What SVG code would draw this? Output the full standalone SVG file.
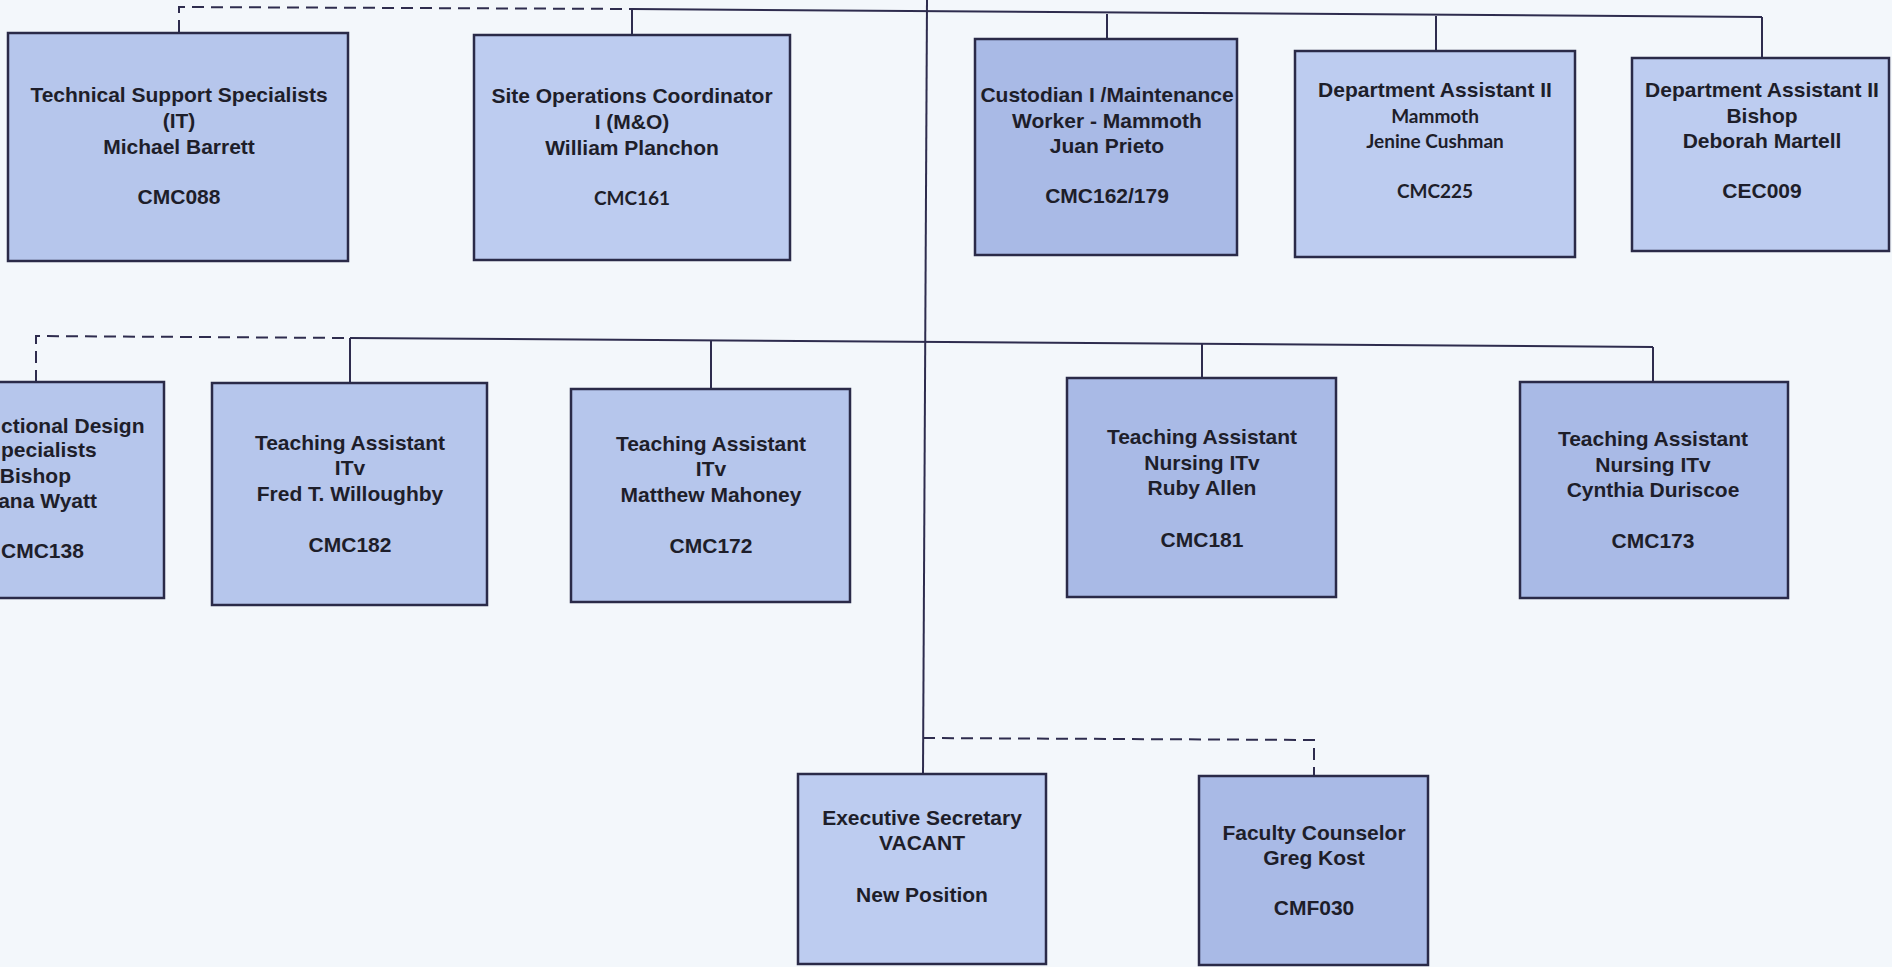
<svg xmlns="http://www.w3.org/2000/svg" width="1892" height="967" viewBox="0 0 1892 967">
  <style>
    .box { fill: #b6c6ec; stroke: #2a2a48; stroke-width: 2.5; }
    .box.dk { fill: #a9bae6; }
    .box.lt { fill: #bdccf0; }
    .t { font-family: "Liberation Sans", Arial, sans-serif; font-weight: bold; font-size: 21px; fill: #1e1e2a; text-anchor: middle; }
    .c { font-family: Lato, "Liberation Sans", sans-serif; font-weight: bold; font-size: 19px; fill: #1e1e2a; text-anchor: middle; }
    .e { text-anchor: end; }
    .s { text-anchor: start; }
    .ln { fill: none; stroke: #2e2c4e; stroke-width: 2; }
    .dash { stroke-dasharray: 12 7; }
  </style>
  <rect width="1892" height="967" fill="#f3f7fb"/>

  <g id="connectors">
    <!-- main vertical trunk -->
    <path class="ln" d="M927,0 L923,774"/>
    <!-- top row bus -->
    <path class="ln dash" d="M179,32 L179,7 L632,9"/>
    <path class="ln" d="M632,9 L1762,17"/>
    <path class="ln" d="M632,9 V35"/>
    <path class="ln" d="M1107,14 V38"/>
    <path class="ln" d="M1436,16 V51"/>
    <path class="ln" d="M1762,17 V58"/>
    <!-- second row bus -->
    <path class="ln dash" d="M36,382 L36,336 L350,338"/>
    <path class="ln" d="M350,338 L1653,347"/>
    <path class="ln" d="M350,338 V383"/>
    <path class="ln" d="M711,340 V389"/>
    <path class="ln" d="M1202,344 V378"/>
    <path class="ln" d="M1653,347 V382"/>
    <!-- dotted-line report to faculty counselor -->
    <path class="ln dash" d="M923,738 L1314,740 V776"/>
  </g>

  <g id="tech-support">
    <rect class="box" x="8" y="33" width="340" height="228"/>
    <text class="t" x="179" y="102">Technical Support Specialists</text>
    <text class="t" x="179" y="128">(IT)</text>
    <text class="t" x="179" y="154">Michael Barrett</text>
    <text class="t" x="179" y="204">CMC088</text>
  </g>

  <g id="site-ops">
    <rect class="box lt" x="474" y="35" width="316" height="225"/>
    <text class="t" x="632" y="103">Site Operations Coordinator</text>
    <text class="t" x="632" y="129">I (M&amp;O)</text>
    <text class="t" x="632" y="155">William Planchon</text>
    <text class="c" x="632" y="205">CMC161</text>
  </g>

  <g id="custodian">
    <rect class="box dk" x="975" y="39" width="262" height="216"/>
    <text class="t" x="1107" y="102">Custodian I /Maintenance</text>
    <text class="t" x="1107" y="128">Worker - Mammoth</text>
    <text class="t" x="1107" y="153">Juan Prieto</text>
    <text class="t" x="1107" y="203">CMC162/179</text>
  </g>

  <g id="dept-asst-mammoth">
    <rect class="box lt" x="1295" y="51" width="280" height="206"/>
    <text class="t" x="1435" y="97">Department Assistant II</text>
    <text class="c" x="1435" y="123">Mammoth</text>
    <text class="c" x="1435" y="148">Jenine Cushman</text>
    <text class="c" x="1435" y="198">CMC225</text>
  </g>

  <g id="dept-asst-bishop">
    <rect class="box lt" x="1632" y="58" width="257" height="193"/>
    <text class="t" x="1762" y="97">Department Assistant II</text>
    <text class="t" x="1762" y="123">Bishop</text>
    <text class="t" x="1762" y="148">Deborah Martell</text>
    <text class="t" x="1762" y="198">CEC009</text>
  </g>

  <g id="instructional-design">
    <rect class="box" x="-10" y="382" width="174" height="216"/>
    <text class="t s" x="1" y="433">ctional Design</text>
    <text class="t s" x="1" y="457">pecialists</text>
    <text class="t e" x="71" y="483">Bishop</text>
    <text class="t e" x="97" y="508">ana Wyatt</text>
    <text class="t s" x="1" y="558">CMC138</text>
  </g>

  <g id="ta-willoughby">
    <rect class="box" x="212" y="383" width="275" height="222"/>
    <text class="t" x="350" y="450">Teaching Assistant</text>
    <text class="t" x="350" y="475">ITv</text>
    <text class="t" x="350" y="501">Fred T. Willoughby</text>
    <text class="t" x="350" y="552">CMC182</text>
  </g>

  <g id="ta-mahoney">
    <rect class="box" x="571" y="389" width="279" height="213"/>
    <text class="t" x="711" y="451">Teaching Assistant</text>
    <text class="t" x="711" y="476">ITv</text>
    <text class="t" x="711" y="502">Matthew Mahoney</text>
    <text class="t" x="711" y="553">CMC172</text>
  </g>

  <g id="ta-allen">
    <rect class="box dk" x="1067" y="378" width="269" height="219"/>
    <text class="t" x="1202" y="444">Teaching Assistant</text>
    <text class="t" x="1202" y="470">Nursing ITv</text>
    <text class="t" x="1202" y="495">Ruby Allen</text>
    <text class="t" x="1202" y="547">CMC181</text>
  </g>

  <g id="ta-duriscoe">
    <rect class="box dk" x="1520" y="382" width="268" height="216"/>
    <text class="t" x="1653" y="446">Teaching Assistant</text>
    <text class="t" x="1653" y="472">Nursing ITv</text>
    <text class="t" x="1653" y="497">Cynthia Duriscoe</text>
    <text class="t" x="1653" y="548">CMC173</text>
  </g>

  <g id="exec-secretary">
    <rect class="box lt" x="798" y="774" width="248" height="190"/>
    <text class="t" x="922" y="825">Executive Secretary</text>
    <text class="t" x="922" y="850">VACANT</text>
    <text class="t" x="922" y="902">New Position</text>
  </g>

  <g id="faculty-counselor">
    <rect class="box dk" x="1199" y="776" width="229" height="189"/>
    <text class="t" x="1314" y="840">Faculty Counselor</text>
    <text class="t" x="1314" y="865">Greg Kost</text>
    <text class="t" x="1314" y="915">CMF030</text>
  </g>
</svg>
